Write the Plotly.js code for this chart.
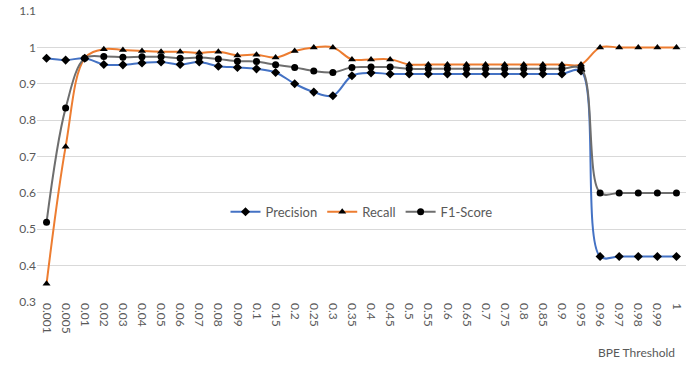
<!DOCTYPE html>
<html>
<head>
<meta charset="utf-8">
<script src="https://cdn.plot.ly/plotly-3.0.1.min.js"></script>
<style>
  html, body { margin: 0; padding: 0; background: #fff; }
  #chart { width: 697px; height: 367px; }
</style>
</head>
<body>
<div id="chart"></div>
<script>
// BPE threshold categories
var thresholds = ["0.001", "0.005", "0.01", "0.02", "0.03", "0.04", "0.05", "0.06", "0.07", "0.08",
  "0.09", "0.1", "0.15", "0.2", "0.25", "0.3", "0.35", "0.4", "0.45", "0.5", "0.55", "0.6", "0.65",
  "0.7", "0.75", "0.8", "0.85", "0.9", "0.95", "0.96", "0.97", "0.98", "0.99", "1"];

var precision = [0.970, 0.965, 0.970, 0.953, 0.952, 0.957, 0.960, 0.953, 0.960, 0.948,
  0.945, 0.941, 0.931, 0.900, 0.877, 0.867, 0.922, 0.930, 0.927, 0.927, 0.927, 0.927, 0.927,
  0.927, 0.927, 0.927, 0.927, 0.927, 0.935, 0.425, 0.425, 0.425, 0.425, 0.425];

var recall = [0.350, 0.727, 0.970, 0.995, 0.993, 0.990, 0.988, 0.988, 0.985, 0.988,
  0.978, 0.980, 0.972, 0.990, 1.000, 1.000, 0.967, 0.967, 0.967, 0.953, 0.953, 0.953, 0.953,
  0.953, 0.953, 0.953, 0.953, 0.953, 0.953, 1.000, 1.000, 1.000, 1.000, 1.000];

var f1 = [0.519, 0.833, 0.970, 0.975, 0.973, 0.974, 0.974, 0.970, 0.972, 0.968,
  0.962, 0.961, 0.952, 0.945, 0.935, 0.931, 0.945, 0.946, 0.946, 0.941, 0.941, 0.941, 0.941,
  0.941, 0.941, 0.941, 0.941, 0.941, 0.942, 0.600, 0.600, 0.600, 0.600, 0.600];

var fontFam = "Lato, 'Open Sans', sans-serif";

function series(name, vals, color, symbol, size) {
  return {
    x: thresholds,
    y: vals,
    name: name,
    type: "scatter",
    mode: "lines+markers",
    line: {color: color, width: 2, shape: "spline", smoothing: 1},
    marker: {color: "#000000", symbol: symbol, size: size}
  };
}

var data = [
  series("Precision", precision, "#4472C4", "diamond", 7),
  series("Recall", recall, "#ED7D31", "triangle-up", 7),
  series("F1-Score", f1, "#6E6E6E", "circle", 7)
];

var layout = {
  width: 697,
  height: 367,
  margin: {l: 37, r: 11, t: 11, b: 65},
  paper_bgcolor: "#ffffff",
  plot_bgcolor: "#ffffff",
  font: {family: fontFam, size: 12, color: "#595959"},
  showlegend: true,
  legend: {
    orientation: "h",
    x: 0.5, xanchor: "center",
    y: 0.31, yanchor: "middle",
    bgcolor: "rgba(0,0,0,0)",
    font: {family: fontFam, size: 13, color: "#595959"},
    itemwidth: 30
  },
  xaxis: {
    type: "category",
    range: [-0.5, thresholds.length - 0.5],
    tickangle: 90,
    showgrid: false,
    showline: false,
    ticks: "",
    zeroline: false,
    tickfont: {family: fontFam, size: 12, color: "#595959"}
  },
  yaxis: {
    range: [0.3, 1.1],
    dtick: 0.1,
    tickformat: "~g",
    showgrid: true,
    gridcolor: "#D9D9D9",
    gridwidth: 1,
    zeroline: false,
    showline: false,
    ticks: "",
    tickfont: {family: fontFam, size: 12, color: "#595959"}
  },
  annotations: [{
    text: "BPE Threshold",
    xref: "paper", yref: "paper",
    x: 1, y: -0.175,
    xshift: -9,
    xanchor: "right", yanchor: "middle",
    showarrow: false,
    font: {family: fontFam, size: 12, color: "#595959"}
  }]
};

Plotly.newPlot("chart", data, layout, {displayModeBar: false});
</script>
</body>
</html>
